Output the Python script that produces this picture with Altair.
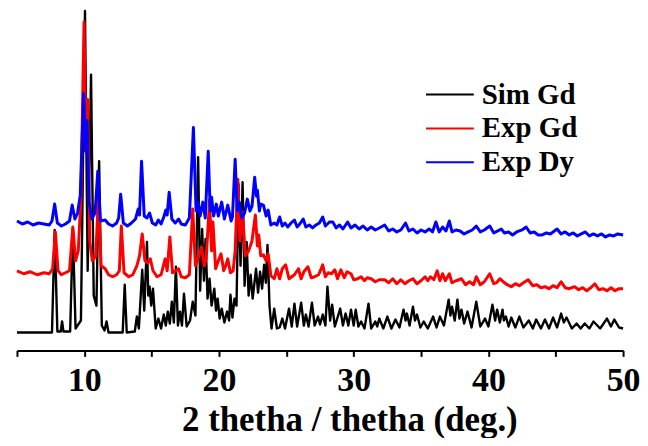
import altair as alt
import pandas as pd

series_names = ["Sim Gd", "Exp Gd", "Exp Dy"]
series_colors = ["#000000", "#ff0000", "#0000ff"]
tick_values = [5, 10, 15, 20, 25, 30, 35, 40, 45, 50]
label_values = [10, 20, 30, 40, 50]

sim_gd_x = [5.0, 7.6, 7.8, 8.0, 8.25, 8.35, 8.45, 8.95, 9.15, 9.35, 9.75, 10.05, 10.25, 10.5, 10.7, 10.9,
            11.1, 11.3, 11.5, 11.65, 11.8, 12.85, 13.0, 13.15, 13.75, 13.9, 14.05, 14.3, 14.45, 14.65, 14.75,
            14.85, 14.97, 15.1, 15.3, 15.5, 15.7, 15.9, 16.05, 16.2, 16.35, 16.5, 16.65, 16.8, 16.95, 17.1,
            17.25, 17.4, 17.6, 17.85, 18.05, 18.25, 18.45, 18.6, 18.75, 18.88, 19.0, 19.15, 19.3, 19.45,
            19.65, 19.78, 19.9, 20.05, 20.2, 20.4, 20.6, 20.75, 20.85, 21.0, 21.15, 21.3, 21.45, 21.6, 21.75,
            21.9, 22.05, 22.2, 22.35, 22.5, 22.75, 22.9, 23.05, 23.2, 23.35, 23.48, 23.6, 23.75, 23.9, 24.1,
            24.3, 24.5, 24.7, 24.9, 25.2, 25.4, 25.6, 25.8, 26.1, 26.3, 26.45, 26.65, 26.9, 27.1, 27.35, 27.5,
            27.7, 27.9, 28.05, 28.25, 28.4, 28.6, 29.0, 29.2, 29.4, 29.6, 29.8, 30.0, 30.15, 30.35, 30.55,
            30.8, 31.1, 31.3, 31.6, 31.75, 31.9, 32.2, 32.5, 32.8, 33.1, 33.4, 33.7, 33.85, 33.95, 34.15, 34.4,
            34.55, 34.7, 34.95, 35.2, 35.5, 35.9, 36.15, 36.4, 36.7, 37.05, 37.18, 37.3, 37.5, 37.7, 37.85,
            38.0, 38.2, 38.45, 38.75, 39.1, 39.4, 39.75, 40.0, 40.3, 40.5, 40.65, 40.85, 41.05, 41.15, 41.3,
            41.5, 41.7, 42.0, 42.3, 42.6, 43.0, 43.3, 43.55, 43.9, 44.2, 44.5, 44.8, 45.1, 45.4, 45.6, 45.8,
            46.2, 46.55, 46.85, 47.15, 47.5, 47.8, 48.3, 48.8, 49.1, 49.35, 49.7, 50.0]
sim_gd_y = [18, 18, 121, 19, 19, 29, 19, 19, 122, 22, 30, 341, 80, 277, 55, 45,
            190, 25, 20, 29, 18, 18, 66, 18, 19, 34, 22, 81, 40, 109, 55,
            64, 45, 62, 22, 32, 22, 36, 25, 39, 27, 49, 28, 84, 25, 39,
            25, 57, 24, 30, 49, 35, 194, 60, 122, 70, 112, 52, 72, 45,
            62, 40, 52, 32, 42, 28, 39, 30, 56, 33, 52, 45, 167, 85, 169,
            65, 109, 55, 76, 52, 82, 58, 79, 62, 86, 68, 106, 45, 22, 42,
            22, 23, 32, 22, 42, 24, 47, 24, 48, 25, 36, 24, 48, 25, 34, 26,
            36, 25, 64, 30, 46, 24, 42, 25, 37, 25, 41, 25, 41, 24, 29,
            22, 47, 22, 29, 24, 32, 22, 34, 22, 31, 23, 41, 30, 37, 25, 44,
            30, 36, 23, 29, 22, 34, 23, 34, 25, 51, 35, 44, 30, 51, 32,
            41, 27, 39, 23, 49, 24, 32, 24, 46, 30, 41, 28, 41, 30, 34,
            24, 33, 23, 34, 23, 30, 22, 31, 22, 31, 22, 33, 23, 37, 28, 33,
            22, 27, 22, 27, 22, 29, 22, 32, 24, 31, 23, 22]

exp_gd_x = [5.0, 5.5, 6.0, 6.5, 7.0, 7.4, 7.65, 7.85, 8.05, 8.3, 8.6, 8.9, 9.15, 9.35, 9.55, 9.75, 9.98,
            10.12, 10.25, 10.4, 10.6, 10.85, 11.05, 11.25, 11.55, 11.8, 12.1, 12.4, 12.6, 12.75, 12.95, 13.3,
            13.6, 13.9, 14.1, 14.3, 14.5, 14.7, 14.9, 15.1, 15.4, 15.7, 16.0, 16.15, 16.35, 16.55, 16.8, 17.0,
            17.2, 17.5, 17.8, 18.05, 18.25, 18.4, 18.7, 18.9, 19.05, 19.3, 19.45, 19.55, 19.75, 19.95, 20.15,
            20.35, 20.5, 20.65, 20.85, 21.05, 21.2, 21.4, 21.55, 21.75, 21.95, 22.2, 22.45, 22.7, 22.85, 22.95,
            23.1, 23.3, 23.5, 23.65, 23.85, 24.1, 24.3, 24.5, 24.7, 24.95, 25.2, 25.4, 25.6, 25.9, 26.1, 26.3,
            26.6, 26.85, 27.1, 27.4, 27.7, 27.9, 28.1, 28.35, 28.6, 28.8, 29.05, 29.3, 29.5, 29.8, 30.0, 30.3,
            30.55, 30.8, 31.0, 31.3, 31.6, 31.9, 32.3, 32.6, 32.9, 33.2, 33.5, 33.8, 34.1, 34.4, 34.7, 35.0,
            35.3, 35.5, 35.7, 35.95, 36.2, 36.4, 36.6, 36.8, 37.1, 37.3, 37.6, 38.0, 38.3, 38.6, 38.9, 39.1,
            39.4, 39.7, 40.1, 40.4, 40.6, 40.85, 41.1, 41.4, 41.7, 42.0, 42.3, 42.6, 42.95, 43.3, 43.6, 43.9,
            44.2, 44.5, 44.8, 45.1, 45.4, 45.7, 46.0, 46.4, 46.7, 47.0, 47.3, 47.6, 47.9, 48.2, 48.5, 48.8,
            49.1, 49.4, 49.7, 50.0]
exp_gd_y = [80, 77, 79, 76, 78, 77, 82, 119, 80, 76, 78, 80, 124, 90, 100, 152, 330,
            200, 252, 110, 90, 95, 154, 85, 82, 76, 74, 76, 80, 125, 78, 74,
            76, 85, 95, 117, 90, 88, 92, 80, 74, 76, 92, 80, 114, 78, 80, 82,
            74, 73, 76, 142, 85, 90, 104, 85, 92, 151, 100, 129, 82, 90, 97,
            80, 85, 92, 78, 80, 100, 172, 110, 139, 95, 100, 110, 136, 105, 116,
            95, 96, 90, 97, 75, 72, 82, 72, 82, 86, 72, 74, 76, 82, 72, 79,
            84, 73, 74, 76, 86, 74, 78, 77, 81, 72, 81, 73, 79, 77, 71, 72,
            74, 70, 73, 72, 69, 71, 71, 68, 72, 67, 71, 67, 70, 72, 67, 70,
            74, 70, 74, 71, 80, 70, 77, 70, 77, 68, 70, 72, 66, 69, 66, 74,
            66, 69, 77, 67, 68, 72, 69, 66, 64, 67, 65, 68, 71, 65, 66, 63,
            64, 62, 65, 63, 69, 63, 62, 64, 61, 63, 60, 63, 67, 61, 62, 60,
            63, 60, 62, 62]

exp_dy_x = [5.0, 5.4, 5.8, 6.2, 6.6, 7.0, 7.4, 7.6, 7.8, 8.0, 8.3, 8.6, 8.9, 9.1, 9.3, 9.5, 9.7, 9.95,
            10.1, 10.2, 10.35, 10.55, 10.8, 11.0, 11.2, 11.55, 11.8, 12.1, 12.4, 12.55, 12.7, 12.9, 13.2,
            13.5, 13.8, 14.0, 14.1, 14.25, 14.45, 14.65, 14.85, 15.05, 15.3, 15.5, 15.7, 15.9, 16.05, 16.15,
            16.3, 16.5, 16.75, 17.0, 17.2, 17.5, 17.8, 18.1, 18.3, 18.45, 18.6, 18.8, 18.98, 19.2, 19.35,
            19.45, 19.6, 19.8, 19.95, 20.2, 20.4, 20.65, 20.9, 21.0, 21.2, 21.35, 21.5, 21.7, 21.9, 22.1,
            22.3, 22.45, 22.65, 22.78, 22.85, 23.0, 23.1, 23.3, 23.5, 23.65, 23.85, 24.1, 24.3, 24.5, 24.7,
            24.9, 25.1, 25.35, 25.6, 25.8, 26.0, 26.25, 26.45, 26.7, 26.95, 27.2, 27.45, 27.7, 27.9, 28.2,
            28.45, 28.7, 28.95, 29.2, 29.55, 29.8, 30.1, 30.4, 30.7, 31.0, 31.3, 31.6, 31.9, 32.3, 32.6,
            32.9, 33.2, 33.5, 33.85, 34.1, 34.4, 34.7, 35.0, 35.3, 35.6, 35.85, 36.1, 36.35, 36.6, 36.85,
            37.1, 37.3, 37.6, 37.9, 38.2, 38.5, 38.8, 39.1, 39.4, 39.7, 40.1, 40.4, 40.7, 40.95, 41.2, 41.5,
            41.8, 42.1, 42.5, 42.8, 43.1, 43.4, 43.7, 44.0, 44.3, 44.6, 44.9, 45.1, 45.4, 45.7, 46.0, 46.3,
            46.6, 46.9, 47.2, 47.5, 47.8, 48.1, 48.4, 48.7, 49.0, 49.3, 49.6, 50.0]
exp_dy_y = [130, 127, 129, 126, 128, 127, 126, 130, 147, 128, 125, 127, 130, 146, 132, 138, 156, 258,
            200, 231, 150, 132, 138, 180, 130, 131, 127, 125, 128, 133, 157, 128, 125,
            128, 132, 142, 136, 190, 135, 133, 138, 128, 126, 131, 127, 134, 141, 136,
            159, 132, 128, 132, 127, 126, 133, 224, 140, 149, 135, 149, 133, 200, 140,
            154, 135, 147, 135, 149, 132, 146, 130, 134, 192, 140, 149, 133, 138, 152,
            140, 145, 174, 155, 161, 140, 147, 146, 135, 141, 126, 128, 126, 134, 125,
            128, 124, 128, 131, 124, 127, 132, 124, 126, 123, 126, 128, 134, 125, 129,
            129, 123, 126, 122, 129, 123, 126, 122, 125, 121, 124, 121, 123, 126, 120,
            122, 119, 121, 128, 120, 122, 118, 121, 119, 122, 119, 129, 119, 124, 120,
            130, 119, 121, 120, 117, 119, 121, 125, 119, 121, 125, 118, 120, 122, 118, 119,
            116, 119, 121, 124, 118, 119, 116, 116, 118, 117, 120, 122, 117, 119, 116, 118,
            115, 117, 119, 115, 117, 115, 117, 114, 116, 115, 117, 116]

frames = []
for name, xs, ys in [(series_names[0], sim_gd_x, sim_gd_y),
                     (series_names[1], exp_gd_x, exp_gd_y),
                     (series_names[2], exp_dy_x, exp_dy_y)]:
    frames.append(pd.DataFrame({"angle": xs, "intensity": ys, "series": name, "idx": range(len(xs))}))
df = pd.concat(frames, ignore_index=True)

FONT = "'Liberation Serif', 'Times New Roman', Times, serif"

x_enc = alt.X("angle:Q",
              scale=alt.Scale(domain=[5, 50], nice=False, zero=False),
              axis=alt.Axis(values=tick_values,
                            labelExpr="indexof(" + str(label_values) + ", datum.value) >= 0 ? datum.label : ''",
                            title="2 thetha / thetha (deg.)",
                            grid=False, domainColor="black", domainWidth=2,
                            tickColor="black", tickWidth=2, tickSize=6,
                            labelFont=FONT, labelFontSize=34, labelFontWeight="bold", labelColor="black",
                            labelPadding=7, labelOverlap=False, labelFlush=False, labelBound=False,
                            titleFont=FONT, titleFontSize=35, titleFontWeight="bold", titleColor="black",
                            titlePadding=5, titleX=334))
y_enc = alt.Y("intensity:Q", scale=alt.Scale(domain=[0, 341], nice=False, zero=False), axis=None)
color_enc = alt.Color("series:N",
                      scale=alt.Scale(domain=series_names, range=series_colors),
                      legend=alt.Legend(orient="none", legendX=410, legendY=70, title=None,
                                        symbolType="stroke", symbolSize=2304, symbolStrokeWidth=2,
                                        labelFont=FONT, labelFontSize=29, labelFontWeight="bold",
                                        labelColor="black", labelOffset=7, clipHeight=28, rowPadding=5,
                                        padding=0))

layers = []
for name, sw in zip(series_names, [2.4, 3, 3]):
    layers.append(
        alt.Chart(df).transform_filter(alt.datum.series == name)
        .mark_line(strokeWidth=sw, strokeJoin="round")
        .encode(x=x_enc, y=y_enc, color=color_enc, order="idx:Q")
    )

chart = alt.layer(*layers).properties(
    width=609, height=341,
    padding={"left": 7, "top": 0, "right": 0, "bottom": 0},
).configure_view(stroke=None)

chart.save("out.html", embed_options={"renderer": "svg", "actions": False})
